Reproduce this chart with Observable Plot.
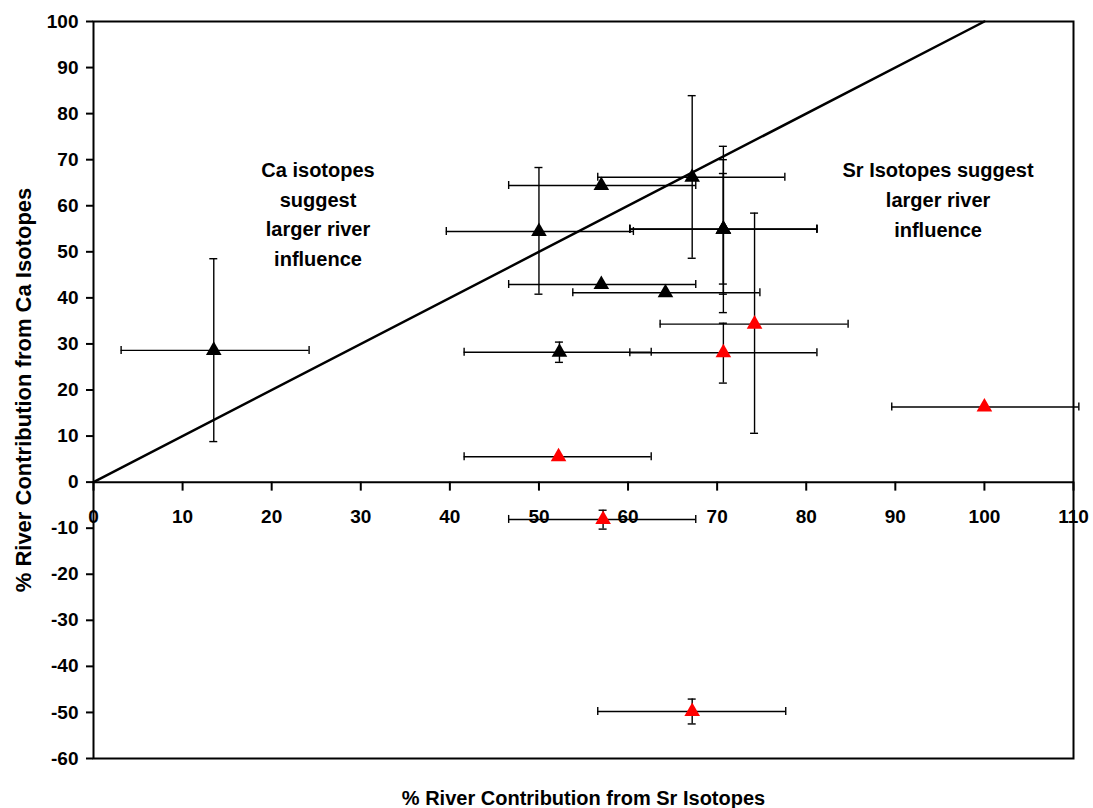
<!DOCTYPE html>
<html><head><meta charset="utf-8">
<script src="https://cdn.jsdelivr.net/npm/d3@7"></script>
<script src="https://cdn.jsdelivr.net/npm/@observablehq/plot@0.6"></script>
<style>body{margin:0;background:#fff}</style>
</head><body><div id="chart"></div>
<script>
// % River Contribution from Sr isotopes (x) and Ca isotopes (y)
const srPct  = [13.5, 50.0, 57.0, 67.2, 70.7, 70.7, 70.7, 57.0, 64.2, 52.3, 74.2, 70.7, 52.2, 57.2, 67.2, 100.0];
const srLow  = [3.1, 39.6, 46.6, 56.6, 60.2, 60.2, 60.2, 46.6, 53.8, 41.6, 63.6, 60.2, 41.6, 46.6, 56.6, 89.6];
const srHigh = [24.2, 60.6, 67.6, 77.6, 81.2, 81.2, 81.2, 67.6, 74.8, 62.6, 84.7, 81.2, 62.6, 67.6, 77.7, 110.6];
const caPct  = [28.6, 54.4, 64.4, 66.2, 54.9, 54.9, 54.9, 42.9, 41.1, 28.2, 34.3, 28.1, 5.5, -8.1, -49.8, 16.3];
const caLow  = [8.8, 40.8, null, 48.6, 36.8, 43.0, 40.8, null, null, 26.0, 10.6, 21.5, null, -10.2, -52.5, null];
const caHigh = [48.5, 68.3, null, 83.9, 72.9, 67.0, 70.0, null, null, 30.4, 58.4, 34.5, null, -6.1, -47.1, null];
const markerColor = ["black","black","black","black","black","black","black","black","black","black","red","red","red","red","red","red"];

const lineX = [0, 100];
const lineY = [0, 100];

const xTicks = [0, 10, 20, 30, 40, 50, 60, 70, 80, 90, 100, 110];
const yTicks = [-60, -50, -40, -30, -20, -10, 0, 10, 20, 30, 40, 50, 60, 70, 80, 90, 100];

const notes = ["Ca isotopes\nsuggest\nlarger river\ninfluence", "Sr Isotopes suggest\nlarger river\ninfluence"];
const noteX = [25.2, 94.8];
const noteY = [58.6, 61.8];

const xLabel = "% River Contribution from Sr Isotopes";
const yLabel = "% River Contribution from Ca Isotopes";

const rows = srPct.map((x, i) => ({x, y: caPct[i], xLo: srLow[i], xHi: srHigh[i], yLo: caLow[i], yHi: caHigh[i], c: markerColor[i]}));
const yErr = rows.filter(d => d.yLo != null);
const diag = lineX.map((x, i) => ({x, y: lineY[i]}));
const noteRows = notes.map((t, i) => ({t, x: noteX[i], y: noteY[i]}));

const font = "'Liberation Sans', Arial, Helvetica, sans-serif";
const eb = {stroke: "#000", strokeWidth: 1.4};

const plot = Plot.plot({
  width: 1093, height: 808,
  marginLeft: 93, marginRight: 20, marginTop: 21, marginBottom: 50,
  x: {domain: [0, 110], axis: null},
  y: {domain: [-60, 100], axis: null},
  color: {type: "identity"},
  style: {fontFamily: font, fontWeight: "bold", color: "#000", background: "#fff"},
  marks: [
    Plot.frame({stroke: "#000", strokeWidth: 2}),
    Plot.axisY({ticks: yTicks, tickSize: 7, tickPadding: 8, fontSize: 19, fontWeight: "bold", strokeWidth: 2, label: null, tickFormat: d => String(d)}),
    Plot.ruleY([0], {stroke: "#000", strokeWidth: 2}),
    Plot.ruleX(xTicks, {x: d => d, y1: () => 0, y2: () => 0, insetBottom: -9, stroke: "#000", strokeWidth: 2}),
    Plot.text(xTicks, {x: d => d, y: () => 0, text: d => String(d), dy: 35, fontSize: 19, fontWeight: "bold"}),
    // horizontal error bars
    Plot.ruleY(rows, {y: "y", x1: "xLo", x2: "xHi", ...eb}),
    Plot.ruleX(rows, {x: "xLo", y1: "y", y2: "y", insetTop: -4, insetBottom: -4, ...eb}),
    Plot.ruleX(rows, {x: "xHi", y1: "y", y2: "y", insetTop: -4, insetBottom: -4, ...eb}),
    // vertical error bars
    Plot.ruleX(yErr, {x: "x", y1: "yLo", y2: "yHi", ...eb}),
    Plot.ruleY(yErr, {y: "yLo", x1: "x", x2: "x", insetLeft: -4, insetRight: -4, ...eb}),
    Plot.ruleY(yErr, {y: "yHi", x1: "x", x2: "x", insetLeft: -4, insetRight: -4, ...eb}),
    // 1:1 line
    Plot.line(diag, {x: "x", y: "y", stroke: "#000", strokeWidth: 2.5}),
    // markers
    Plot.dot(rows, {x: "x", y: "y", symbol: "triangle", r: 5.8, fill: "c", stroke: "none"}),
    // annotations
    Plot.text(noteRows, {x: "x", y: "y", text: "t", fontSize: 20, fontWeight: "bold", lineHeight: 1.48, lineAnchor: "middle", fill: "#000"}),
    // axis titles
    Plot.text([xLabel], {frameAnchor: "bottom", dy: 40, lineAnchor: "middle", text: d => d, fontSize: 20, fontWeight: "bold"}),
    Plot.text([yLabel], {frameAnchor: "left", dx: -70, rotate: -90, textAnchor: "middle", lineAnchor: "middle", text: d => d, fontSize: 22, fontWeight: "bold"})
  ]
});
document.getElementById("chart").appendChild(plot);
</script>
</body></html>
